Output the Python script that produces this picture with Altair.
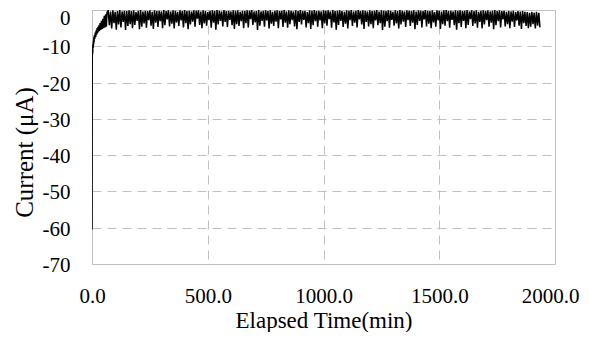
import altair as alt
import pandas as pd

# Start-up transient (minutes, µA)
time_start = [0, 1, 2, 3, 4, 5, 6, 7, 8, 9, 10, 12, 14, 16, 18, 20, 22, 24, 26, 28,
              30, 32, 35, 38, 41, 44, 47, 50, 53, 56, 59, 62, 65]
current_start = [-60.5, -13.5, -11.5, -12.0, -9.5, -10.5, -8.5, -9.5, -7.5, -8.8,
                 -7.0, -8.0, -6.2, -7.4, -5.6, -6.8, -5.0, -6.4, -4.6, -6.0,
                 -4.2, -5.8, -3.6, -5.5, -3.0, -5.2, -2.4, -5.0, -1.6, -4.8,
                 -1.2, -4.6, -0.6]

# Steady noisy regime, sampled from 70 min to 1935 min
reg_first, reg_last = 70, 1935
current_reg = [
    -0.2, -4.2, -0.4, -5.1, -0.1, -3.6, -0.5, -5.4, -0.3, -4.0, -0.0, -4.8, -0.4, -3.3, -0.2, -5.5, -0.3, -4.4, -0.1, -3.9,
    -0.3, -5.0, -0.1, -4.1, -0.6, -3.0, -0.2, -5.3, -0.0, -4.6, -0.4, -3.7, -0.2, -4.9, -0.3, -2.8, -0.1, -4.3, -0.5, -5.2,
    -0.1, -3.5, -0.3, -4.7, -0.2, -3.1, -0.4, -5.0, -0.0, -4.2, -0.3, -2.6, -0.1, -4.5, -0.4, -3.8, -0.1, -5.1, -0.2, -3.4,
    -0.5, -4.4, -0.1, -2.9, -0.3, -4.8, -0.0, -3.6, -0.3, -5.3, -0.2, -4.0, -0.4, -3.2, -0.1, -4.6, -0.2, -2.4, -0.1, -4.1,
    -0.4, -5.0, -0.1, -3.7, -0.3, -4.3, -0.6, -2.8, -0.2, -4.9, -0.1, -3.5, -0.3, -5.4, -0.0, -4.0, -0.2, -3.0, -0.4, -4.5,
    -0.0, -3.3, -0.3, -4.7, -0.2, -2.7, -0.4, -4.2, -0.1, -5.2, -0.2, -3.9, -0.1, -4.4, -0.5, -3.1, -0.2, -5.0, -0.3, -3.6,
    -0.1, -4.8, -0.2, -2.5, -0.0, -4.1, -0.4, -3.4, -0.3, -5.5, -0.0, -4.3, -0.4, -3.0, -0.2, -4.6, -0.1, -2.9, -0.3, -5.1,
    -0.1, -3.8, -0.5, -4.4, -0.2, -3.2, -0.1, -5.0, -0.3, -2.6, -0.2, -4.7, -0.0, -3.5, -0.4, -4.9, -0.1, -3.9, -0.2, -2.8,
    -0.4, -4.5, -0.1, -5.3, -0.3, -3.3, -0.0, -4.0, -0.3, -2.7, -0.2, -4.8, -0.6, -3.6, -0.1, -5.2, -0.2, -4.2, -0.0, -3.1,
    -0.3, -4.6, -0.2, -2.9, -0.4, -5.0, -0.1, -3.7, -0.2, -4.3, -0.1, -2.5, -0.4, -4.9, -0.0, -3.4, -0.3, -5.4, -0.2, -4.1,
    -0.1, -3.0, -0.3, -4.7, -0.5, -3.8, -0.1, -5.1, -0.2, -2.8, -0.0, -4.4, -0.4, -3.5, -0.2, -4.8, -0.0, -2.6, -0.3, -4.0,
    -0.1, -5.2, -0.2, -3.3, -0.4, -4.5, -0.1, -3.9, -0.3, -5.0, -0.2, -2.9, -0.0, -4.2, -0.4, -3.6, -0.1, -5.5, -0.2, -4.6,
    -0.3, -3.1, -0.1, -4.9, -0.2, -2.7, -0.5, -4.3, -0.1, -3.7, -0.3, -5.1, -0.0, -4.0, -0.2, -3.2, -0.4, -4.7, -0.1, -2.8,
    -0.2, -4.4, -0.3, -3.5, -0.1, -5.3, -0.4, -4.1, -0.1, -3.0, -0.2, -4.8, -0.3, -2.6, -0.0, -4.5, -0.2, -3.8, -0.3, -5.0,
    -0.1, -3.4, -0.6, -4.6, -0.1, -2.9, -0.2, -5.2, -0.4, -3.9, -0.1, -4.3, -0.0, -3.1, -0.3, -4.9, -0.2, -2.7, -0.4, -4.2,
    -0.1, -5.4, -0.2, -3.6, -0.1, -4.7, -0.3, -3.0, -0.2, -5.0, -0.0, -4.1, -0.4, -2.5, -0.1, -4.4, -0.3, -3.7, -0.1, -4.9,
    -0.5, -3.3, -0.2, -5.1, -0.1, -4.0, -0.3, -2.8, -0.1, -4.6, -0.4, -3.5, -0.2, -5.3, -0.0, -4.2, -0.3, -3.1, -0.1, -4.8,
    -0.3, -2.6, -0.2, -4.5, -0.5, -3.9, -0.3, -5.0, -0.4, -3.2, -0.2, -4.7, -0.6, -2.9, -0.3, -4.3, -0.4, -5.2, -0.3, -3.6,
    -0.5, -4.4, -0.6, -5.0, -0.8, -4.6, -0.5, -3.9, -0.7, -5.1, -0.5, -4.3, -0.8, -4.8,
]
n_reg = len(current_reg)
step = (reg_last - reg_first) / (n_reg - 1)
time_reg = [reg_first + i * step for i in range(n_reg)]

x_ticks = [0, 500, 1000, 1500, 2000]
y_ticks = [-70, -60, -50, -40, -30, -20, -10, 0]

df = pd.DataFrame({
    "t": time_start + time_reg,
    "i": current_start + current_reg,
})

FONT = "Liberation Serif"
GRID = "#c0c0c0"

chart = alt.Chart(df).mark_line(color="black", strokeWidth=1.5, clip=True).encode(
    x=alt.X("t:Q", title="Elapsed Time(min)",
            scale=alt.Scale(domain=[0, 2000], nice=False, zero=False),
            axis=alt.Axis(values=x_ticks, format=".1f", labelFlush=False,
                          ticks=False, domain=False, grid=True,
                          labelPadding=21,
                          labelOffset={"condition": {"test": "datum.value == 2000", "value": -5},
                                       "value": 0},
                          titleFontSize=23, titleX=231.5, titleY=63,
                          titleBaseline="alphabetic", titleAlign="center")),
    y=alt.Y("i:Q", title="Current (μA)",
            scale=alt.Scale(domain=[-70, 0], nice=False, zero=False),
            axis=alt.Axis(values=y_ticks,
                          labelExpr="datum.value == 0 ? '0' : '-' + abs(datum.value)",
                          ticks=False, domain=False,
                          grid=True, labelPadding=22,
                          labelOffset={"condition": {"test": "datum.value == 0", "value": 8},
                                       "value": 1.5},
                          titleFontSize=25, titleX=-68, titleY=142,
                          titleBaseline="middle", titleAlign="center", titleAngle=270)),
    order="t:Q",
).properties(
    width=463, height=254,
    background="white",
    autosize=alt.AutoSizeParams(type="none"),
    padding={"left": 84, "top": 2, "right": 26, "bottom": 68},
).configure_view(
    stroke=GRID, strokeWidth=1,
).configure_axis(
    labelFont=FONT, titleFont=FONT, labelFontSize=21,
    labelColor="black", titleColor="black", titleFontWeight="normal",
    gridColor=GRID, gridDash=[9, 6], gridWidth=1, gridOpacity=1,
)

chart.save("out.html", embed_options={"renderer": "svg", "actions": False})
